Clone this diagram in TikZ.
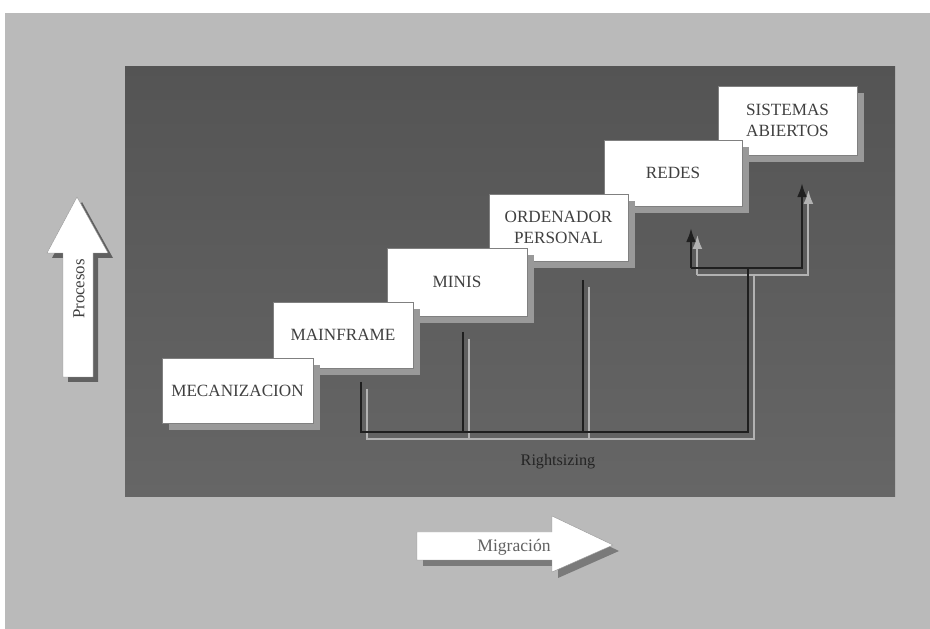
\documentclass[tikz,border=0pt]{standalone}
\usepackage{fontspec}
\setmainfont{Liberation Serif}
\usetikzlibrary{arrows.meta,shadows}

\tikzset{
	stage/.style={fill=white, draw=black!50, line width=.4pt, inner sep=0pt, align=center,
		text=black!75, font=\fontsize{12.2}{15}\selectfont,
		drop shadow={shadow xshift=5pt, shadow yshift=-5pt, fill=black!40, opacity=1}},
	link/.style={draw=black!88, line width=1.7pt},
	glow/.style={draw=black!30, line width=1.4pt},
	tip/.style={-{Latex[length=10pt,width=7pt]}},
	bigarrow/.style={fill=white, draw=black!40, line width=.3pt}
}

\begin{document}
\begin{tikzpicture}[x=0.025cm, y=-0.025cm]

	% page and panel
	\useasboundingbox (0,0) rectangle (930,629);
	\fill[white] (0,0) rectangle (930,629);
	\fill[black!27] (5,13) rectangle (930,629);
	\shade[top color=black!67, bottom color=black!60] (125,67) rectangle (895,497);

	% joints of the lines
	\coordinate (a1) at (361,382);
	\coordinate (a2) at (361,432);
	\coordinate (b1) at (463,332);
	\coordinate (b2) at (463,432);
	\coordinate (c1) at (583,280);
	\coordinate (c2) at (583,432);
	\coordinate (d1) at (748,432);
	\coordinate (d2) at (748,268);
	\coordinate (e1) at (691,268);
	\coordinate (e2) at (691,228);
	\coordinate (f1) at (802,268);
	\coordinate (f2) at (802,183);

	\begin{scope}[transform canvas={shift={(0.16cm,-0.17cm)}}]
		\draw[glow] (a1) -- (a2) -- (d1) -- (d2);
		\draw[glow] (b1) -- (b2);
		\draw[glow] (c1) -- (c2);
		\draw[glow, tip] (e1) -- (e2);
		\draw[glow, tip] (e1) -- (f1) -- (f2);
	\end{scope}
	\draw[link] (a1) -- (a2) -- (d1) -- (d2);
	\draw[link] (b1) -- (b2);
	\draw[link] (c1) -- (c2);
	\draw[link, tip] (e1) -- (e2);
	\draw[link, tip] (e1) -- (f1) -- (f2);

	\node[text=black!86, font=\fontsize{11.5}{13}\selectfont] (rs) at (558,462) {Rightsizing};

	% the steps
	\node[stage, minimum width=3.475cm, minimum height=1.725cm] (sa) at (787.5,120.5) {SISTEMAS\\ABIERTOS};
	\node[stage, minimum width=3.45cm, minimum height=1.65cm] (re) at (673,173) {REDES};
	\node[stage, minimum width=3.475cm, minimum height=1.675cm] (op) at (558.5,227.5) {ORDENADOR\\PERSONAL};
	\node[stage, minimum width=3.5cm, minimum height=1.7cm] (mi) at (457,282) {MINIS};
	\node[stage, minimum width=3.5cm, minimum height=1.65cm] (mf) at (343,335) {MAINFRAME};
	\node[stage, minimum width=3.775cm, minimum height=1.625cm] (me) at (237.5,390.5) {MECANIZACION};

	% Procesos
	\fill[black!62] (68,382) -- (68,258) -- (52,258) -- (82,202) -- (113,258) -- (98,258) -- (98,382) -- cycle;
	\draw[bigarrow] (63,377) -- (63,253) -- (47,253) -- (77,197) -- (108,253) -- (93,253) -- (93,377) -- cycle;
	\node[rotate=90, text=black!75, font=\fontsize{12}{14}\selectfont] (pr) at (79,289) {Procesos};

	% Migracion
	\fill[black!52] (423,538) -- (558,538) -- (558,522) -- (619,551) -- (558,578) -- (558,566) -- (423,566) -- cycle;
	\draw[bigarrow] (417,532) -- (552,532) -- (552,516) -- (613,545) -- (552,572) -- (552,560) -- (417,560) -- cycle;
	\node[text=black!62, font=\fontsize{12.5}{14}\selectfont] (mg) at (514,547) {Migración};

\end{tikzpicture}
\end{document}
